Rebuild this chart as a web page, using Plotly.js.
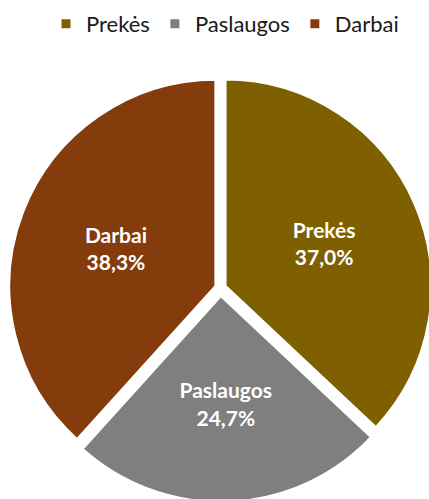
<!DOCTYPE html>
<html>
<head>
<meta charset="utf-8">
<script src="https://cdn.plot.ly/plotly-3.0.1.min.js"></script>
<style>
html,body{margin:0;padding:0;overflow:hidden;background:#fff;width:429px;height:499px;}
#chart{width:440px;height:510px;}
</style>
</head>
<body>
<div id="chart"></div>
<script>
var categories = ["Prekės", "Paslaugos", "Darbai"];
var shares = [37.0, 24.7, 38.3];
var colors = ["#7F6000", "#7F7F7F", "#843C0C"];

var W = 440, H = 510;
var cx = 220.5, cyTop = 288;
var rPie = 207;
var pulls = [0.024, 0.036, 0.024];
var half = rPie * (1 + Math.max.apply(null, pulls));

var base = "<b>%{label}</b><br><b>%{percent:.1%}</b>";

var trace = {
  type: "pie",
  labels: categories,
  values: shares,
  sort: false,
  direction: "clockwise",
  rotation: 0,
  pull: pulls,
  marker: {colors: colors, line: {color: "#ffffff", width: 3}},
  textinfo: "label+percent",
  texttemplate: [base, base + "<br> ", base],
  textposition: "inside",
  insidetextorientation: "horizontal",
  insidetextfont: {family: "Lato, 'Open Sans', sans-serif", size: 21, color: "#ffffff"},
  hoverinfo: "none",
  domain: {
    x: [(cx - half) / W, (cx + half) / W],
    y: [(H - cyTop - half) / H, (H - cyTop + half) / H]
  }
};

var layout = {
  width: W, height: H,
  margin: {l: 0, r: 0, t: 0, b: 0},
  paper_bgcolor: "#ffffff",
  separators: ", ",
  showlegend: true,
  legend: {
    orientation: "h",
    x: 225 / W, xanchor: "center",
    y: (H - 24) / H, yanchor: "middle",
    font: {family: "Lato, 'Open Sans', sans-serif", size: 22, color: "#1a1a1a"},
    traceorder: "normal",
    itemwidth: 30
  }
};

Plotly.newPlot("chart", [trace], layout, {displayModeBar: false, staticPlot: true});
</script>
</body>
</html>
